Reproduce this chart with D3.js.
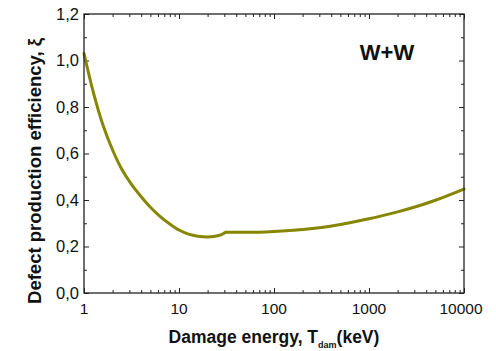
<!DOCTYPE html>
<html>
<head>
<meta charset="utf-8">
<script src="https://cdn.jsdelivr.net/npm/d3@7"></script>
<style>
  html, body { margin: 0; padding: 0; background: #fff; }
  svg { display: block; }
  text { font-family: "Liberation Sans", Arial, sans-serif; fill: #111; }
</style>
</head>
<body>
<svg id="chart" width="496" height="351"></svg>
<script>
// Damage energy (keV) and defect production efficiency for W+W
const energy = [1, 1.26, 1.58, 2, 2.5, 3.16, 4, 5, 6.3, 8, 10, 12.6, 15.8, 20, 24, 28, 31, 45, 70, 100, 200, 316, 500, 1000, 2000, 3162, 5000, 10000];
const efficiency = [1.03, 0.86, 0.724, 0.615, 0.532, 0.467, 0.414, 0.369, 0.330, 0.297, 0.271, 0.2535, 0.2445, 0.241, 0.244, 0.251, 0.261, 0.261, 0.261, 0.264, 0.273, 0.282, 0.295, 0.319, 0.349, 0.372, 0.399, 0.447];
// the curve has a corner at 31 keV
const breakEnergy = 31;
const xTickValues = [1, 10, 100, 1000, 10000];
const yTickValues = [0, 0.2, 0.4, 0.6, 0.8, 1.0, 1.2];
const yTickLabels = ["0,0", "0,2", "0,4", "0,6", "0,8", "1,0", "1,2"];
const seriesLabel = "W+W";

const svg = d3.select("#chart");
const plotLeft = 84, plotRight = 464, plotTop = 14, plotBottom = 293;

const x = d3.scaleLog().domain([1, 10000]).range([plotLeft, plotRight]);
const y = d3.scaleLinear().domain([0, 1.2]).range([plotBottom, plotTop]);

// minor tick positions
const xMinor = [];
for (let d = 1; d < 10000; d *= 10) for (let k = 2; k <= 9; k++) xMinor.push(d * k);
const yMinor = d3.range(0.1, 1.2, 0.2);

const axisColor = "#222";
const majorLen = 5, minorLen = 3;

// inward-pointing ticks on all four sides
function ticks(g, axisFn, scale, values, len) {
  g.call(axisFn(scale).tickValues(values).tickSize(-len).tickFormat(""))
   .call(s => s.select(".domain").remove())
   .call(s => s.selectAll("line").attr("stroke", axisColor).attr("stroke-width", 1));
}

const gB = svg.append("g").attr("transform", `translate(0,${plotBottom})`);
ticks(gB.append("g"), d3.axisBottom, x, xTickValues, majorLen);
ticks(gB.append("g"), d3.axisBottom, x, xMinor, minorLen);
const gT = svg.append("g").attr("transform", `translate(0,${plotTop})`);
ticks(gT.append("g"), d3.axisTop, x, xTickValues, majorLen);
ticks(gT.append("g"), d3.axisTop, x, xMinor, minorLen);
const gL = svg.append("g").attr("transform", `translate(${plotLeft},0)`);
ticks(gL.append("g"), d3.axisLeft, y, yTickValues, majorLen);
ticks(gL.append("g"), d3.axisLeft, y, yMinor, minorLen);
const gR = svg.append("g").attr("transform", `translate(${plotRight},0)`);
ticks(gR.append("g"), d3.axisRight, y, yTickValues, majorLen);
ticks(gR.append("g"), d3.axisRight, y, yMinor, minorLen);

// tick labels
svg.append("g").selectAll("text").data(xTickValues).join("text")
  .attr("x", (d, i) => x(d) - (i === xTickValues.length - 1 ? 3 : 0)).attr("y", 314)
  .attr("text-anchor", "middle").attr("font-size", 15.5)
  .text(d => d);
svg.append("g").selectAll("text").data(yTickValues).join("text")
  .attr("x", 79).attr("y", d => y(d) + 5.5)
  .attr("text-anchor", "end").attr("font-size", 16.5)
  .text((d, i) => yTickLabels[i]);

// curve: two smooth branches joined at the break energy
const points = energy.map((e, i) => [e, efficiency[i]]);
const line = d3.line()
  .x(d => x(d[0]))
  .y(d => y(d[1]))
  .curve(d3.curveCatmullRom.alpha(0.5));
const branches = [points.filter(d => d[0] <= breakEnergy), points.filter(d => d[0] >= breakEnergy)];
svg.append("g").selectAll("path").data(branches).join("path")
  .attr("d", line)
  .attr("fill", "none")
  .attr("stroke", "#868600")
  .attr("stroke-width", 3)
  .attr("stroke-linejoin", "round")
  .attr("stroke-linecap", "round");

// frame
svg.append("rect")
  .attr("x", plotLeft).attr("y", plotTop)
  .attr("width", plotRight - plotLeft).attr("height", plotBottom - plotTop)
  .attr("fill", "none").attr("stroke", axisColor).attr("stroke-width", 1.3);

// series label
svg.append("text")
  .attr("x", 387).attr("y", 60)
  .attr("text-anchor", "middle").attr("font-size", 22).attr("font-weight", "bold")
  .text(seriesLabel);

// axis titles
const xt = svg.append("text")
  .attr("x", 274).attr("y", 343)
  .attr("text-anchor", "middle").attr("font-size", 17.5).attr("font-weight", "bold");
xt.append("tspan").text("Damage energy, T");
xt.append("tspan").attr("font-size", 9).attr("dy", 5).text("dam");
xt.append("tspan").attr("dy", -5).text("(keV)");

svg.append("text")
  .attr("transform", "translate(41,171) rotate(-90)")
  .attr("text-anchor", "middle").attr("font-size", 18.5).attr("font-weight", "bold")
  .text("Defect production efficiency, ξ");
</script>
</body>
</html>
